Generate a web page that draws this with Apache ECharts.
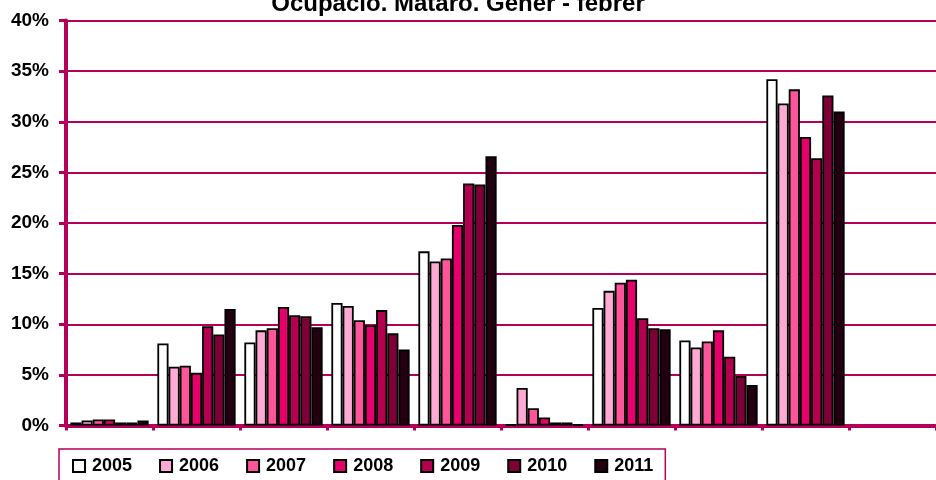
<!DOCTYPE html>
<html>
<head>
<meta charset="utf-8">
<style>
  html, body { margin: 0; padding: 0; background: #ffffff; }
  #chart { width: 936px; height: 480px; }
</style>
<script src="https://cdn.jsdelivr.net/npm/echarts@6/dist/echarts.min.js"></script>
</head>
<body>
<div id="chart"></div>
<script>
// Groups along the horizontal axis (unlabelled in the chart)
const groups = ['g1', 'g2', 'g3', 'g4', 'g5', 'g6', 'g7', 'g8', 'g9', 'g10'];

// Share of employment (%) per group and year
const y2005 = [0.3, 8.1, 8.2, 12.1, 17.2, 0.1, 11.6, 8.4, 34.2, null];
const y2006 = [0.5, 5.8, 9.4, 11.8, 16.2, 3.7, 13.3, 7.7, 31.8, null];
const y2007 = [0.6, 5.9, 9.6, 10.4, 16.5, 1.7, 14.1, 8.3, 33.2, null];
const y2008 = [0.6, 5.2, 11.7, 9.9, 19.8, 0.8, 14.4, 9.4, 28.5, null];
const y2009 = [0.3, 9.8, 10.9, 11.4, 23.9, 0.3, 10.6, 6.8, 26.4, null];
const y2010 = [0.3, 9.0, 10.8, 9.1, 23.8, 0.3, 9.6, 4.9, 32.6, null];
const y2011 = [0.5, 11.5, 9.7, 7.5, 26.6, 0.1, 9.5, 4.0, 31.0, null];

const years = ['2005', '2006', '2007', '2008', '2009', '2010', '2011'];
const yearValues = [y2005, y2006, y2007, y2008, y2009, y2010, y2011];
const yearColors = ['#ffffff', '#ffaad4', '#ff559b', '#e6006b', '#b3004f', '#7d0037', '#22000f'];

// Y axis tick range (%)
const yMin = 0, yMax = 40, yStep = 5;

const crimson = '#b5005a';
const font = 'Liberation Sans';

const chart = echarts.init(document.getElementById('chart'), null, { renderer: 'canvas' });

const series = years.map((yr, i) => ({
  name: yr,
  type: 'bar',
  data: yearValues[i],
  barGap: '0%',
  barCategoryGap: '10%',
  itemStyle: { color: yearColors[i], borderColor: '#000000', borderWidth: 1.8 },
  emphasis: { disabled: true }
}));

chart.setOption({
  animation: false,
  backgroundColor: '#ffffff',
  title: {
    text: 'Ocupació. Mataró. Gener - febrer',
    left: 458,
    top: -8,
    padding: 0,
    textAlign: 'center',
    textStyle: { fontFamily: font, fontWeight: 'bold', fontSize: 24, color: '#000000' }
  },
  legend: {
    data: years,
    left: 59,
    top: 449,
    orient: 'horizontal',
    itemWidth: 12,
    itemHeight: 12,
    itemGap: 27,
    padding: [8, 12, 20, 13],
    borderColor: crimson,
    borderWidth: 1.5,
    icon: 'rect',
    textStyle: { fontFamily: font, fontWeight: 'bold', fontSize: 18, color: '#000000', padding: [0, 0, 0, 2] }
  },
  grid: { left: 66, top: 20.5, width: 877.5, height: 405, containLabel: false },
  xAxis: {
    type: 'category',
    data: groups,
    axisLine: { lineStyle: { color: crimson, width: 4 } },
    axisTick: { show: true, inside: false, length: 5, lineStyle: { color: crimson, width: 3 } },
    axisLabel: { show: false },
    splitLine: { show: false }
  },
  yAxis: {
    type: 'value',
    min: yMin,
    max: yMax,
    interval: yStep,
    axisLine: { show: true, lineStyle: { color: crimson, width: 4 } },
    axisTick: { show: true, length: 7, lineStyle: { color: crimson, width: 3 } },
    axisLabel: {
      formatter: '{value}%',
      margin: 17,
      fontFamily: font,
      fontWeight: 'bold',
      fontSize: 19,
      color: '#000000'
    },
    splitLine: { show: true, lineStyle: { color: crimson, width: 2 } }
  },
  series: series
});
</script>
</body>
</html>
